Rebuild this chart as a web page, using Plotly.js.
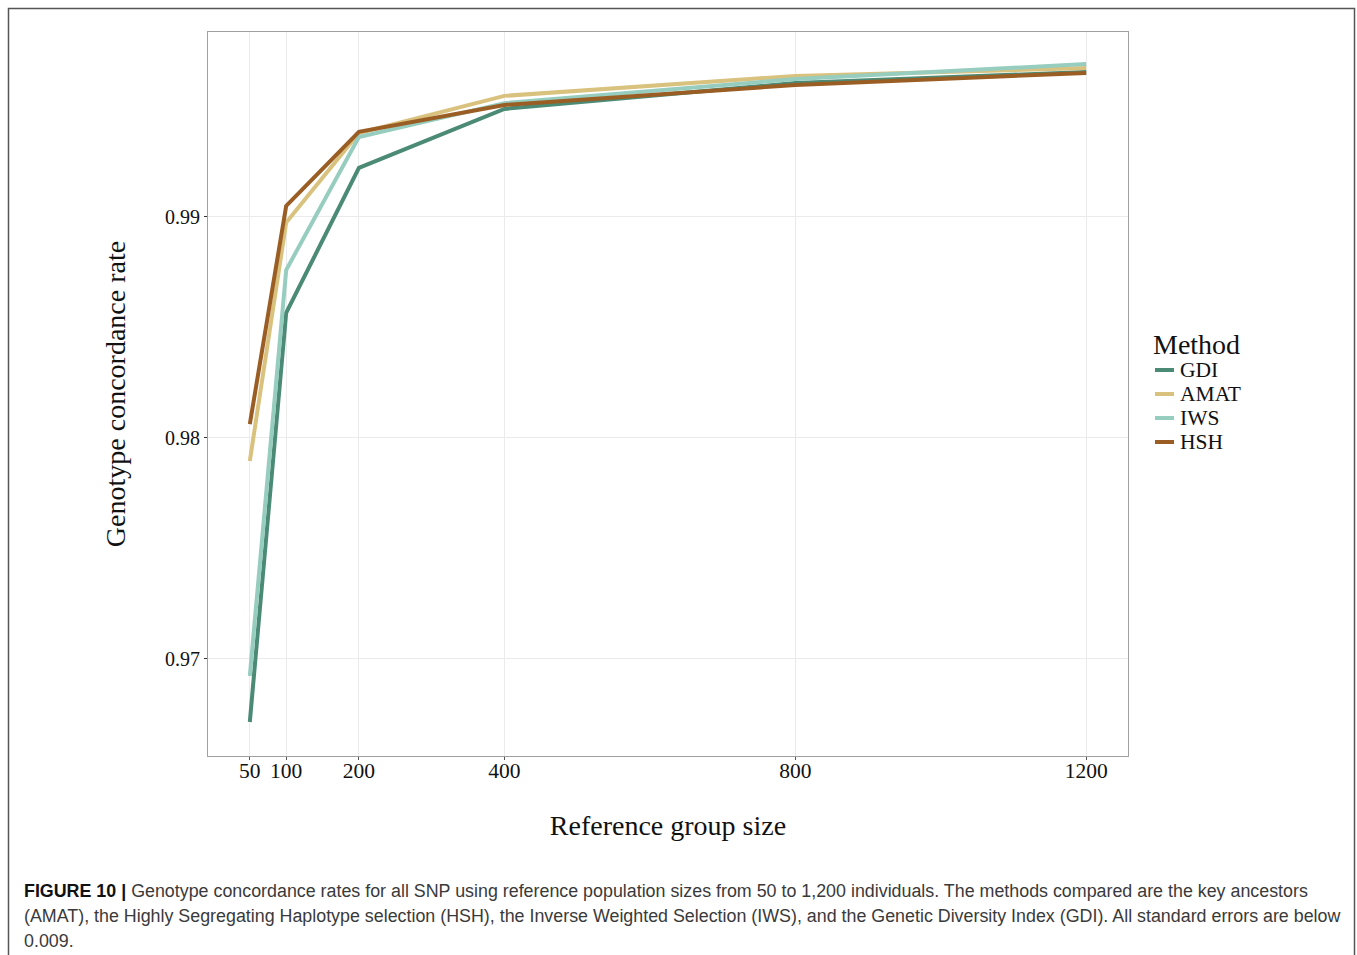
<!DOCTYPE html>
<html>
<head>
<meta charset="utf-8">
<script src="https://cdn.plot.ly/plotly-3.0.1.min.js"></script>
<style>
html,body{margin:0;padding:0;background:#fff;}
#chart{width:1357px;height:955px;}
</style>
</head>
<body>
<div id="chart"></div>
<script>
// ---- data ----
const sizes = [50, 100, 200, 400, 800, 1200];
const methods = ["GDI", "AMAT", "IWS", "HSH"];
const gdi  = [0.96715, 0.98566, 0.99222, 0.99489, 0.99606, 0.99656];
const amat = [0.97896, 0.98975, 0.99380, 0.99548, 0.99638, 0.99674];
const iws  = [0.96923, 0.98760, 0.99362, 0.99515, 0.99624, 0.99692];
const hsh  = [0.98063, 0.99050, 0.99385, 0.99507, 0.99597, 0.99652];
const xTickVals = [50, 100, 200, 400, 800, 1200];
const xTickText = ["50", "100", "200", "400", "800", "1200"];
const yTickVals = [0.97, 0.98, 0.99];
const yTickText = ["0.97", "0.98", "0.99"];
const legendTitle = "Method";
const captionLines = [
  "<b>FIGURE 10 |</b> <span style='color:#3a3a3a'>Genotype concordance rates for all SNP using reference population sizes from 50 to 1,200 individuals. The methods compared are the key ancestors</span>",
  "<span style='color:#3a3a3a'>(AMAT), the Highly Segregating Haplotype selection (HSH), the Inverse Weighted Selection (IWS), and the Genetic Diversity Index (GDI). All standard errors are below</span>",
  "<span style='color:#3a3a3a'>0.009.</span>"
];

// ---- styles ----
const seriesVals = [gdi, amat, iws, hsh];
const colors = ["#4b8a74", "#d9c17e", "#97cdbf", "#9a5e24"];

const W = 1357, H = 955;
const L = 208, R = 1128, T = 32, B = 756;
const pw = R - L, ph = B - T;
const px = x => (x - L) / pw;
const py = y => (B - y) / ph;

const serif = "Liberation Serif, Times New Roman, serif";
const sans = "Liberation Sans, Arial, Helvetica, sans-serif";

const traces = methods.map((m, i) => ({
  type: "scatter",
  mode: "lines",
  name: m,
  x: sizes,
  y: seriesVals[i],
  line: {color: colors[i], width: 4},
  showlegend: false,
  hoverinfo: "x+y+name"
}));

const annotations = captionLines.map((t, i) => ({
  xref: "paper", yref: "paper",
  x: px(22), y: py(891 + 25 * i),
  xanchor: "left", yanchor: "middle",
  text: t, showarrow: false, align: "left",
  font: {family: sans, size: 17.85, color: "#111"}
}));

// legend (custom, ggplot-style compact spacing)
const shapes = [{
  type: "rect", xref: "paper", yref: "paper",
  x0: px(8.5), x1: px(1354.5), y0: py(970), y1: py(8.5),
  line: {color: "#555", width: 1.5}, fillcolor: "rgba(0,0,0,0)", layer: "below"
}];
annotations.push({
  xref: "paper", yref: "paper", x: px(1151), y: py(344),
  xanchor: "left", yanchor: "middle", showarrow: false,
  text: legendTitle, font: {family: serif, size: 28, color: "#111"}
});
methods.forEach((m, i) => {
  const cy = 370 + 24 * i;
  shapes.push({
    type: "line", xref: "paper", yref: "paper",
    x0: px(1155), x1: px(1174), y0: py(cy), y1: py(cy),
    line: {color: colors[i], width: 4}
  });
  annotations.push({
    xref: "paper", yref: "paper", x: px(1178), y: py(cy),
    xanchor: "left", yanchor: "middle", showarrow: false,
    text: m, font: {family: serif, size: 21.5, color: "#111"}
  });
});

const layout = {
  width: W, height: H,
  margin: {l: L, r: W - R, t: T, b: H - B, pad: 0},
  paper_bgcolor: "#fff",
  plot_bgcolor: "#fff",
  showlegend: false,
  xaxis: {
    range: [-7.5, 1257.5],
    tickvals: xTickVals, ticktext: xTickText,
    ticks: "outside", ticklen: 3, tickwidth: 1, tickcolor: "#555",
    ticklabelstandoff: -8,
    showgrid: true, gridcolor: "#ebebeb", gridwidth: 1,
    zeroline: false,
    showline: true, mirror: true, linecolor: "#a0a0a0", linewidth: 1.2,
    tickfont: {family: serif, size: 21.5, color: "#111"},
    title: {text: "Reference group size", font: {family: serif, size: 28, color: "#111"}, standoff: 33}
  },
  yaxis: {
    range: [0.96561, 0.99837],
    tickvals: yTickVals, ticktext: yTickText,
    ticks: "outside", ticklen: 3, tickwidth: 1, tickcolor: "#333",
    showgrid: true, gridcolor: "#ebebeb", gridwidth: 1,
    zeroline: false,
    showline: true, mirror: true, linecolor: "#a0a0a0", linewidth: 1.2,
    tickfont: {family: serif, size: 20, color: "#111"},
    title: {text: "Genotype concordance rate", font: {family: serif, size: 28, color: "#111"}, standoff: 31}
  },
  shapes: shapes,
  annotations: annotations
};

Plotly.newPlot("chart", traces, layout, {displayModeBar: false});
</script>
</body>
</html>
